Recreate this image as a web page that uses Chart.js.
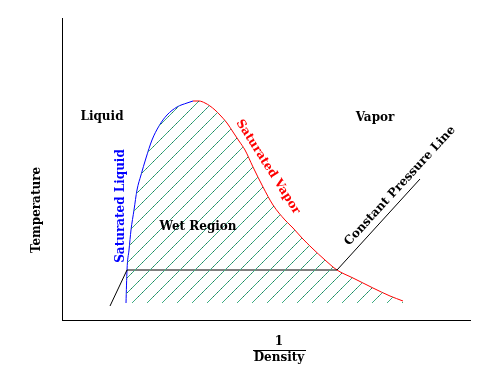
<!DOCTYPE html>
<html>
<head>
<meta charset="utf-8">
<script src="https://cdn.jsdelivr.net/npm/chart.js@4"></script>
<style>
html,body{margin:0;padding:0;background:#fff;}
#wrap{width:501px;height:387px;position:relative;}
</style>
</head>
<body>
<div id="wrap"><canvas id="c"></canvas></div>
<script>
// Values (x = 1/density, y = temperature, arbitrary units)
const liquidX = [64, 65, 67, 69, 72, 75, 79, 84, 90, 97, 105, 115, 125, 131];
const liquidY = [17, 50, 70, 90, 110, 130, 145, 162, 180, 194, 205, 213, 217, 219];
const vaporX = [131, 137, 143, 148, 153, 158, 165, 171, 177, 183, 191, 201, 211, 223, 231, 240, 250, 263, 275, 291, 311, 328, 341];
const vaporY = [219, 219, 217, 214, 210, 205, 197, 188, 179, 170, 153, 133, 115, 100, 92, 82, 72, 60, 50, 42, 32, 24, 19];
const pressureX = [48, 65, 275, 358];
const pressureY = [14, 50, 50, 141];
const wetBase = 17;
const xRange = [0, 408];
const yRange = [0, 302];

// Text labels with anchor positions (data units) and rotation in degrees
const labelText = ['Liquid', 'Vapor', 'Wet Region', 'Saturated Liquid', 'Saturated Vapor', 'Constant Pressure Line'];
const labelX = [40, 313, 136, 59, 206, 338];
const labelY = [203, 202, 93, 114, 153, 134];
const labelRot = [0, 0, 0, -90, 57.6, -47.4];
const labelColor = ['#000', '#000', '#000', '#0000ff', '#ff0000', '#000'];

const pts = (xs, ys) => xs.map((x, i) => ({x: x, y: ys[i]}));

function makeHatch() {
  const s = 15;
  const c = document.createElement('canvas');
  c.width = s; c.height = s;
  const g = c.getContext('2d');
  const cols = ['#3fb377', '#3a9c98', '#46b06e', '#1f6f60'];
  for (let i = 0; i < s; i++) {
    g.fillStyle = cols[i % cols.length];
    g.fillRect(i, s - 1 - i, 1, 1);
  }
  return g.createPattern(c, 'repeat');
}

const domePts = pts(liquidX, liquidY).concat(pts(vaporX.slice(1), vaporY.slice(1)));

const textPlugin = {
  id: 'texts',
  afterDatasetsDraw(chart) {
    const ctx = chart.ctx;
    const xs = chart.scales.x, ys = chart.scales.y;
    ctx.save();
    ctx.font = 'bold 12px "DejaVu Serif"';
    ctx.textAlign = 'center';
    ctx.textBaseline = 'middle';
    for (let i = 0; i < labelText.length; i++) {
      ctx.save();
      ctx.translate(xs.getPixelForValue(labelX[i]), ys.getPixelForValue(labelY[i]));
      ctx.rotate(labelRot[i] * Math.PI / 180);
      ctx.fillStyle = labelColor[i];
      ctx.fillText(labelText[i], 0, 0);
      ctx.restore();
    }
    // axis titles
    const ca = chart.chartArea;
    ctx.fillStyle = '#000';
    ctx.save();
    ctx.translate(37, 210);
    ctx.rotate(-Math.PI / 2);
    ctx.fillText('Temperature', 0, 0);
    ctx.restore();
    const cx = 279;
    ctx.fillText('1', cx, ca.bottom + 22);
    ctx.fillText('Density', cx, ca.bottom + 38);
    ctx.fillRect(cx - 26, ca.bottom + 30, 53, 1);
    ctx.restore();
  }
};

new Chart(document.getElementById('c'), {
  type: 'scatter',
  data: {
    datasets: [
      {
        data: domePts, showLine: true, pointRadius: 0, borderWidth: 0,
        borderColor: 'rgba(0,0,0,0)', backgroundColor: makeHatch(),
        fill: {value: wetBase}, cubicInterpolationMode: 'monotone'
      },
      {
        data: pts(pressureX, pressureY), showLine: true, pointRadius: 0,
        borderWidth: 1, borderColor: '#000', fill: false, tension: 0
      },
      {
        data: pts(liquidX, liquidY), showLine: true, pointRadius: 0,
        borderWidth: 1, borderColor: '#0000ff', fill: false, cubicInterpolationMode: 'monotone'
      },
      {
        data: pts(vaporX, vaporY), showLine: true, pointRadius: 0,
        borderWidth: 1, borderColor: '#ff0000', fill: false, cubicInterpolationMode: 'monotone'
      }
    ]
  },
  options: {
    responsive: true,
    maintainAspectRatio: false,
    animation: false,
    events: [],
    layout: {padding: {left: 62, top: 18, right: 31, bottom: 67}},
    plugins: {legend: {display: false}, tooltip: {enabled: false}},
    scales: {
      x: {
        type: 'linear', min: xRange[0], max: xRange[1],
        grid: {display: false, drawTicks: false},
        ticks: {display: false},
        border: {display: true, color: '#000', width: 1}
      },
      y: {
        type: 'linear', min: yRange[0], max: yRange[1],
        grid: {display: false, drawTicks: false},
        ticks: {display: false},
        border: {display: true, color: '#000', width: 1}
      }
    }
  },
  plugins: [textPlugin]
});
</script>
</body>
</html>
